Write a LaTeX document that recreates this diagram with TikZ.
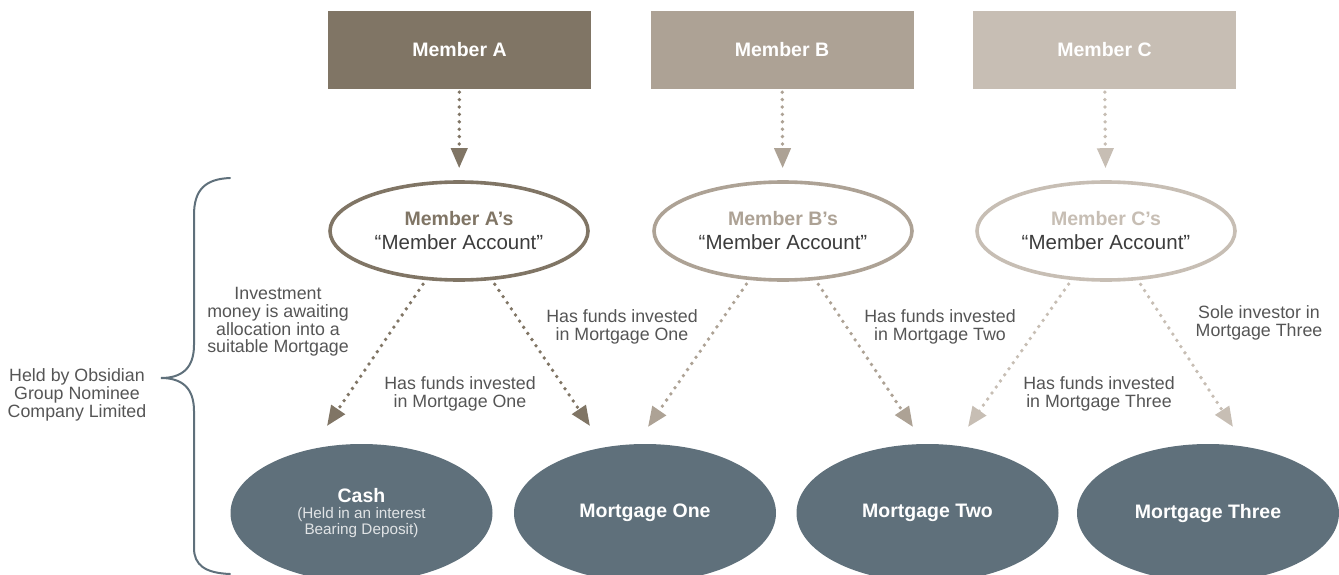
\documentclass[tikz,border=0pt]{standalone}
\usepackage{fontspec}
\setmainfont{Liberation Sans}
\usepackage{xcolor}
\definecolor{ColA}{RGB}{128,117,101}
\definecolor{ColB}{RGB}{173,162,149}
\definecolor{ColC}{RGB}{199,190,180}
\definecolor{ColD}{RGB}{95,112,123}
\definecolor{ColT}{RGB}{60,60,60}
\definecolor{ColL}{RGB}{85,85,85}
\definecolor{ColW}{RGB}{225,228,230}
\usepackage{tikz}
\usetikzlibrary{shapes}
\usetikzlibrary{arrows.meta}
\tikzstyle{Box}=[rectangle,minimum width=263pt,minimum height=78pt,inner sep=0pt,
text=white,font=\fontsize{19.5}{20}\selectfont\bfseries]
\tikzstyle{Account}=[ellipse,fill=white,line width=3.6pt,minimum width=258pt,
minimum height=98pt,inner sep=0pt,align=center,text=ColT,font=\fontsize{20.5}{24}\selectfont]
\tikzstyle{Asset}=[ellipse,fill=ColD,minimum width=262pt,minimum height=138pt,
inner sep=0pt,align=center,text=white,font=\fontsize{19.5}{16}\selectfont\bfseries]
\tikzstyle{Edge}=[line width=3.8pt,line cap=round,dash pattern=on 0pt off 7.4pt,
-{Triangle[length=20pt,width=16pt]}]
\tikzstyle{Brace}=[draw=ColD,line width=2pt,line cap=round]
\tikzstyle{NodeST}=[align=center,text=ColL,font=\fontsize{17.8}{17.8}\selectfont]
\newcommand{\Small}{\mdseries\fontsize{15.3}{16}\selectfont\color{ColW}}
\begin{document}
\begin{tikzpicture}[x=1pt,y=-1pt]
        \useasboundingbox(0,0)rectangle(1339,575);
        \node[Box,fill=ColA](mA)at(459.50,50.00){Member A};
        \node[Box,fill=ColB](mB)at(782.00,50.00){Member B};
        \node[Box,fill=ColC](mC)at(1104.50,50.00){Member C};
        \node[Account,draw=ColA](accA)at(459.00,231.00){{\fontsize{19.5}{24}\selectfont\bfseries\color{ColA}Member A’s}\\“Member Account”};
        \node[Account,draw=ColB](accB)at(783.00,231.00){{\fontsize{19.5}{24}\selectfont\bfseries\color{ColB}Member B’s}\\“Member Account”};
        \node[Account,draw=ColC](accC)at(1106.00,231.00){{\fontsize{19.5}{24}\selectfont\bfseries\color{ColC}Member C’s}\\“Member Account”};
        \node[Asset](cash)at(361.50,513.00){Cash\\{\Small(Held in an interest}\\{\Small Bearing Deposit)}};
        \node[Asset](m1)at(645.00,513.00){Mortgage One};
        \node[Asset](m2)at(927.50,513.00){Mortgage Two};
        \node[Asset](m3)at(1208.00,513.00){Mortgage Three};
        \coordinate(tA1)at(327.00,426.00);
        \coordinate(tA2)at(590.00,426.00);
        \coordinate(tB1)at(648.00,427.00);
        \coordinate(tB2)at(913.00,427.00);
        \coordinate(tC1)at(968.00,427.00);
        \coordinate(tC2)at(1233.00,427.00);
        \draw[Edge,ColA,shorten <=3pt,shorten >=12pt](mA)--(accA);
        \draw[Edge,ColB,shorten <=3pt,shorten >=12pt](mB)--(accB);
        \draw[Edge,ColC,shorten <=3pt,shorten >=12pt](mC)--(accC);
        \draw[Edge,ColA,shorten <=5pt](accA)--(tA1);
        \draw[Edge,ColA,shorten <=5pt](accA)--(tA2);
        \draw[Edge,ColB,shorten <=5pt](accB)--(tB1);
        \draw[Edge,ColB,shorten <=5pt](accB)--(tB2);
        \draw[Edge,ColC,shorten <=5pt](accC)--(tC1);
        \draw[Edge,ColC,shorten <=5pt](accC)--(tC2);
        \node[NodeST](held)at(77.00,395.00){Held by Obsidian\\Group Nominee\\Company Limited};
        \node[NodeST](wait)at(278.00,322.00){Investment\\money is awaiting\\allocation into a\\suitable Mortgage};
        \node[NodeST](fA)at(460.00,394.00){Has funds invested\\in Mortgage One};
        \node[NodeST](fB1)at(622.00,327.00){Has funds invested\\in Mortgage One};
        \node[NodeST](fB2)at(940.00,327.00){Has funds invested\\in Mortgage Two};
        \node[NodeST](fC1)at(1099.00,394.00){Has funds invested\\in Mortgage Three};
        \node[NodeST](fC2)at(1259.00,323.00){Sole investor in\\Mortgage Three};
        \draw[Brace](230,178)..controls(205,179)and(194,190)..(194,215)--(194,345)
            ..controls(194,368)and(182,378)..(161,378)..controls(182,378)and(194,388)..(194,411)
            --(194,548)..controls(194,565)and(205,573)..(230,574);
    \end{tikzpicture}
\end{document}
